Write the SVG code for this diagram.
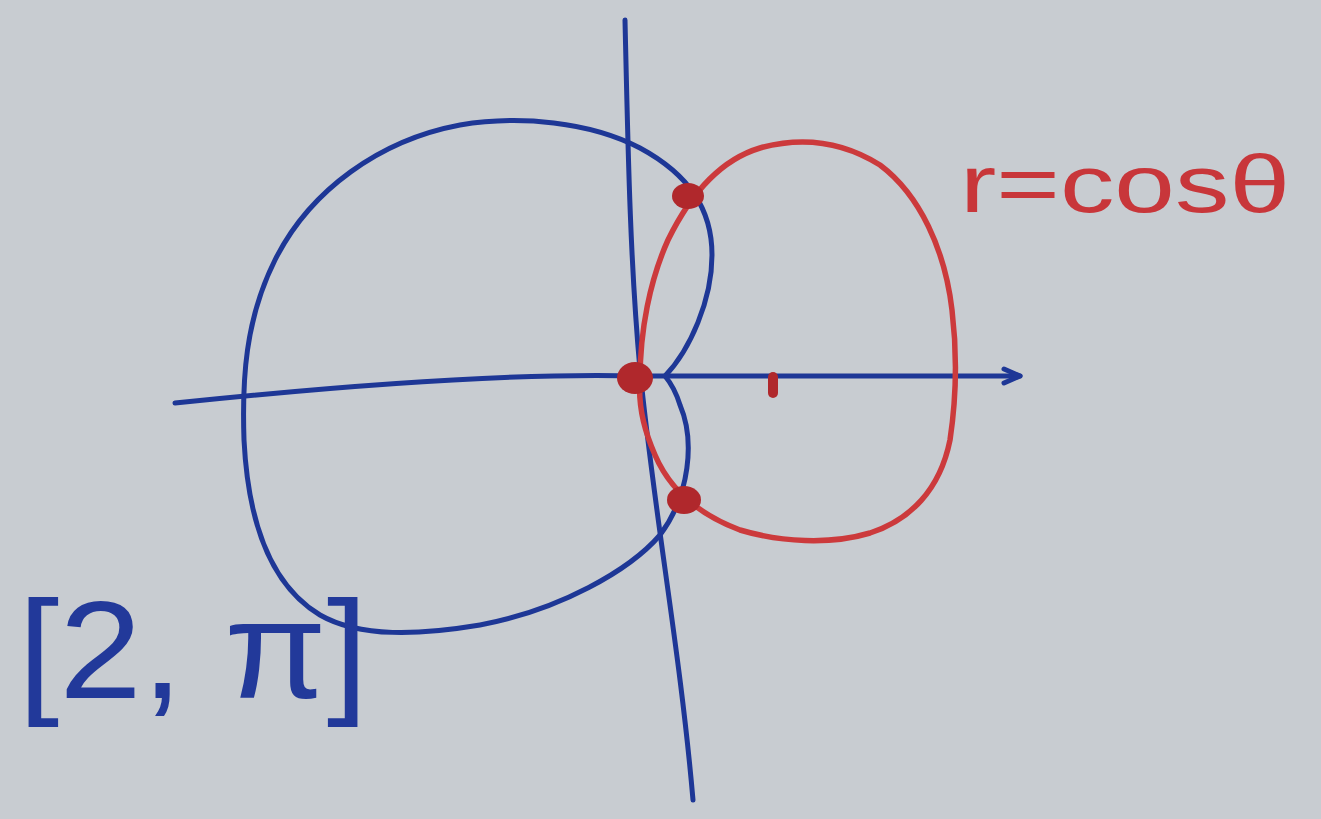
<svg xmlns="http://www.w3.org/2000/svg" width="1321" height="819" viewBox="0 0 1321 819">
<defs>
<style>
.blue{fill:none;stroke:#1e3796;stroke-width:5;stroke-linecap:round;stroke-linejoin:round}
.red{fill:none;stroke:#cc3a3c;stroke-width:5.5;stroke-linecap:round;stroke-linejoin:round}
.dot{fill:#b0282c}
.lblr{font-family:"Liberation Sans",Arial,sans-serif;fill:#c8363a}
.lblb{font-family:"Liberation Sans",Arial,sans-serif;fill:#22399a}
</style>
</defs>
<rect x="0" y="0" width="1321" height="819" fill="#c8ccd1"/>
<g id="axes">
<path class="blue" d="M175,403 C300,390 500,372 640,376 L1020,376"/>
<path class="blue" d="M1004,369 L1020,376 L1004,383"/>
<path class="blue" d="M625,20 C628,150 630,260 640,370 C655,520 680,650 693,800"/>
</g>
<g id="limacon">
<path class="blue" d="M665,376 C690,350 712,300 712,255 C712,210 690,175 640,148 C590,122 520,115 460,125 C380,140 310,190 275,260 C245,320 242,380 244,440 C248,520 270,585 320,615 C360,638 420,635 480,625 C560,610 630,570 660,535 C690,495 695,440 680,405 C676,392 670,382 665,376 Z"/>
</g>
<g id="circle">
<path class="red" d="M640,380 C640,330 650,280 668,240 C690,195 720,160 760,148 C800,137 840,140 880,165 C920,195 945,250 952,310 C958,360 956,400 950,440 C940,490 910,520 870,533 C830,545 780,542 740,530 C700,515 670,490 655,455 C643,428 638,405 640,380 Z"/>
</g>
<g id="points">
<ellipse class="dot" cx="688" cy="196" rx="16" ry="13"/>
<ellipse class="dot" cx="635" cy="378" rx="18" ry="16"/>
<ellipse class="dot" cx="684" cy="500" rx="17" ry="14"/>
<rect class="dot" x="768" y="372" width="10" height="26" rx="5"/>
</g>
<g id="labels">
<text class="lblr" x="960" y="212" font-size="82" textLength="330" lengthAdjust="spacingAndGlyphs">r=cosθ</text>
<text class="lblb" x="18" y="698" font-size="140" textLength="350" lengthAdjust="spacingAndGlyphs">[2, π]</text>
</g>
</svg>
